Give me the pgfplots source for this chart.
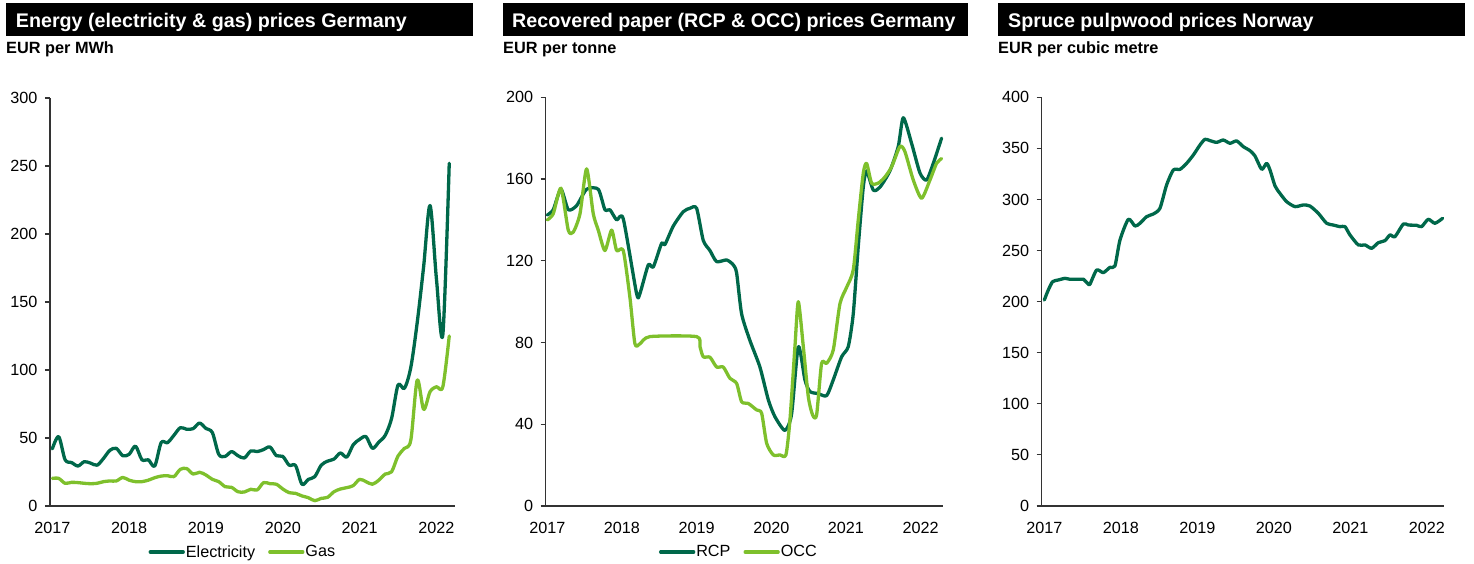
\documentclass[border=0pt]{standalone}
\usepackage{fontspec}
\setmainfont{Liberation Sans}
\usepackage{pgfplots}
\pgfplotsset{compat=1.18}
\definecolor{dgreen}{RGB}{0,104,74}
\definecolor{lgreen}{RGB}{126,192,44}
\pgfplotsset{
 panel/.style={
  scale only axis, axis lines=left,
  axis line style={-, line width=1.3pt, black!80},
  tick align=outside, major tick length=5pt,
  xtick style={draw=none},
  ytick style={line width=1.1pt, black!80},
  tick label style={font=\fontsize{16.2}{16.2}\selectfont},
  xticklabel style={yshift=-8pt},
  yticklabel style={xshift=-4pt},
  /pgf/number format/assume math mode=true,
  ymin=0,
  legend style={draw=none, fill=none, legend columns=2, font=\fontsize{16.2}{16.2}\selectfont, anchor=center,
    nodes={inner sep=1pt},
    /tikz/every even column/.append style={column sep=12pt}, inner sep=0pt},
  legend image code/.code={\draw[#1] (0pt,0pt) -- (33pt,0pt);},
  every axis plot/.append style={line width=3.3pt, line join=round, line cap=round, mark=none},
 }
}
\begin{document}
\begin{tikzpicture}
\path[use as bounding box] (0pt,0pt) rectangle (1474pt,563pt);
% titles
\fill[black] (6pt,527pt) rectangle (473pt,560pt);
\fill[black] (503pt,527pt) rectangle (968pt,560pt);
\fill[black] (998pt,527pt) rectangle (1465pt,560pt);
\tikzset{ttl/.style={anchor=base west, inner sep=0pt, text=white, font=\bfseries\fontsize{19.7}{19.7}\selectfont},
         unit/.style={anchor=base west, inner sep=0pt, font=\bfseries\fontsize{16.3}{16.3}\selectfont}}
\node[ttl] at (15.7pt,535.7pt) {Energy (electricity \& gas) prices Germany};
\node[ttl] at (512pt,535.7pt) {Recovered paper (RCP \& OCC) prices Germany};
\node[ttl] at (1008pt,535.7pt) {Spruce pulpwood prices Norway};
\node[unit] at (6pt,509pt) {EUR per MWh};
\node[unit] at (503pt,509pt) {EUR per tonne};
\node[unit] at (998pt,509pt) {EUR per cubic metre};

% Panel 1 (x = months since Jan 2017)
\begin{axis}[panel, at={(50pt,57pt)}, anchor=south west, width=405pt, height=408pt,
  xmin=-0.36, xmax=62.9, ymax=300, ytick={0,50,...,300},
  xtick={0,12,24,36,48,60}, xticklabels={2017,2018,2019,2020,2021,2022},
  legend style={at={(0.475,-0.1127)}}]
\addplot[dgreen, smooth, tension=0.5] coordinates {
(0,42)(1,51)(2,34)(3,32)(4,29.4)(5,32.6)(6,31.5)(7,30)(8,35)(9,41)(10,42.4)(11,37)
(12,38)(13,44)(14,34)(15,34)(16,29.4)(17,46.6)(18,46.6)(19,52)(20,57.6)(21,56.4)(22,56.9)(23,61)
(24,57)(25,54)(26,38)(27,36.5)(28,40)(29,37)(30,35.3)(31,40.5)(32,40)(33,41.5)(34,43.4)(35,37)
(36,36.5)(37,30)(38,29.7)(39,16)(40,19.6)(41,21.6)(42,30)(43,33)(44,34.5)(45,39)(46,36)(47,45)
(48,49)(49,51)(50,42.4)(51,47)(52,52)(53,64.5)(54,89)(55,86.5)(56,102)(57,135)(58,176)(59,221)
(60,167)(61,126)(62,252)};
\addlegendentry{Electricity}
\addplot[lgreen, smooth, tension=0.5] coordinates {
(0,20.3)(1,20.3)(2,16.7)(3,17.4)(4,17.2)(5,16.7)(6,16.4)(7,16.7)(8,17.9)(9,18.4)(10,18.4)(11,21)
(12,19)(13,17.9)(14,17.9)(15,19)(16,20.8)(17,22)(18,22.3)(19,21.6)(20,27)(21,27.5)(22,23.5)(23,24.8)
(24,22.8)(25,19.6)(26,17.9)(27,14.2)(28,13.7)(29,10.5)(30,10.3)(31,12.3)(32,11.8)(33,17.2)(34,16.4)(35,16)
(36,12.5)(37,9.8)(38,9.3)(39,7.4)(40,6.1)(41,3.9)(42,5.6)(43,6.4)(44,10.5)(45,12.5)(46,13.5)(47,15)
(48,19.6)(49,17.9)(50,16)(51,19)(52,23.5)(53,25.2)(54,36.8)(55,42.4)(56,48.5)(57,92.6)(58,71)(59,84)
(60,87.7)(61,87.7)(62,125)};
\addlegendentry{Gas}
\end{axis}

% Panel 2 (x = years since start of 2017)
\begin{axis}[panel, at={(545.7pt,57pt)}, anchor=south west, width=397.3pt, height=408.7pt,
  xmin=-0.021, xmax=5.30, ymax=200, ytick={0,40,...,200},
  xtick={0,1,2,3,4,5}, xticklabels={2017,2018,2019,2020,2021,2022},
  legend style={at={(0.485,-0.1125)}}]
\addplot[dgreen, smooth, tension=0.4] coordinates {
(0.000,142.4)(0.080,145)(0.183,155)(0.281,145)(0.393,147)(0.527,155)(0.683,155)
(0.772,145)(0.839,145)(0.929,140)(1.018,140.5)(1.196,104)(1.241,104)(1.353,118)
(1.420,117)(1.531,128.5)(1.576,128)(1.688,137)(1.821,144)(1.911,145.7)(2.000,145.7)
(2.089,130)(2.179,125)(2.268,119.6)(2.402,120.4)(2.491,118)(2.536,114)(2.603,94)
(2.714,81)(2.848,68)(2.960,52)(3.049,43.7)(3.183,37)(3.272,45)(3.362,78)
(3.451,61.7)(3.518,56)(3.629,55)(3.741,54)(3.830,61.7)(3.942,73)(4.031,78)
(4.098,94)(4.165,127)(4.232,156)(4.277,164)(4.366,154.6)(4.455,156)(4.589,164)
(4.701,176)(4.768,190)(4.879,177.5)(4.991,163)(5.080,159.5)(5.170,167.7)(5.281,180)};
\addlegendentry{RCP}
\addplot[lgreen, smooth, tension=0.4] coordinates {
(0.000,140)(0.080,143)(0.183,155.5)(0.281,135)(0.348,134)(0.438,143)(0.527,165)
(0.616,143)(0.683,135)(0.772,125)(0.862,135)(0.929,125)(1.018,125)(1.107,102)
(1.174,79.4)(1.241,79.4)(1.375,82.9)(2.000,82.9)(2.045,78)(2.089,73)(2.179,72.8)
(2.268,68)(2.357,68)(2.446,62.5)(2.536,60)(2.603,51)(2.692,50.2)(2.804,47)
(2.871,45.4)(2.938,30.7)(3.027,25)(3.116,25)(3.196,25)(3.250,42)(3.317,78)
(3.362,100)(3.429,78)(3.496,53.5)(3.554,44.5)(3.607,44.5)(3.674,69.8)(3.741,69.8)
(3.830,76.3)(3.920,99)(4.009,107)(4.098,115.5)(4.165,140)(4.232,162.8)(4.277,167.7)
(4.344,158)(4.433,158)(4.522,161)(4.612,166)(4.723,175.9)(4.790,173.4)(4.902,159.5)
(5.013,150.6)(5.125,159.5)(5.214,167.7)(5.281,170)};
\addlegendentry{OCC}
\end{axis}

% Panel 3 (x = years since start of 2017)
\begin{axis}[panel, at={(1041.7pt,57pt)}, anchor=south west, width=402.3pt, height=408.7pt,
  xmin=-0.034, xmax=5.223, ymax=400, ytick={0,50,...,400},
  xtick={0,1,2,3,4,5}, xticklabels={2017,2018,2019,2020,2021,2022}]
\addplot[dgreen, smooth, tension=0.4] coordinates {
(0.000,201.6)(0.052,211.4)(0.109,219.6)(0.183,221.2)(0.270,222.8)(0.335,221.9)
(0.466,221.9)(0.510,222)(0.575,217.2)(0.597,217.2)(0.684,231)(0.771,228.4)
(0.858,233.6)(0.923,234.9)(0.989,260.4)(1.098,280.6)(1.185,274)(1.250,276.7)
(1.337,283.2)(1.424,285.8)(1.511,291.4)(1.598,314.2)(1.686,328.9)(1.773,329.5)
(1.860,335.4)(1.947,343.5)(2.034,353.3)(2.099,358.9)(2.165,357.6)(2.252,355.9)
(2.339,358.2)(2.426,355)(2.513,357.3)(2.600,351.7)(2.687,347.8)(2.753,342.6)
(2.840,329.5)(2.905,335.4)(2.949,328.9)(3.015,313.2)(3.079,306)(3.166,297.9)
(3.275,293)(3.384,294.6)(3.471,293.6)(3.580,286.5)(3.689,276.7)(3.776,275)
(3.863,273.4)(3.929,273.4)(3.994,265.3)(4.103,255.5)(4.190,255.5)(4.277,252.2)
(4.364,257.7)(4.451,259.7)(4.517,265.3)(4.582,263.6)(4.691,276)(4.756,275)
(4.865,274.7)(4.930,273.4)(5.017,280.6)(5.104,276.7)(5.205,281.6)};
\end{axis}
\end{tikzpicture}
\end{document}
